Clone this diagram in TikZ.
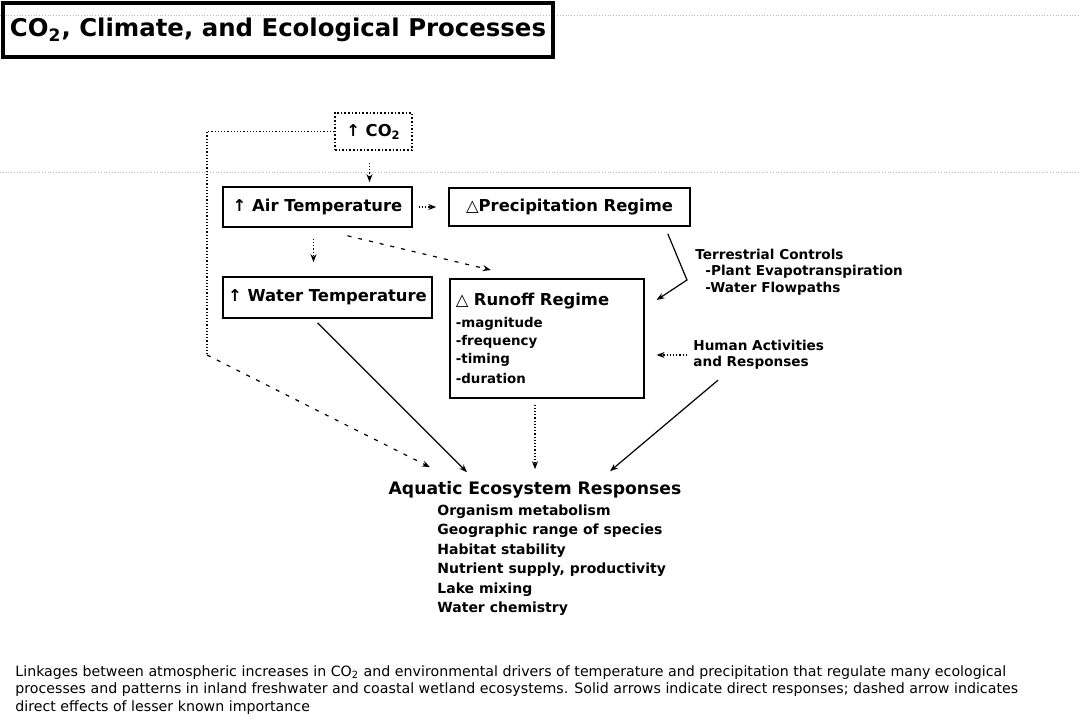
\documentclass[tikz,border=0pt]{standalone}
\usepackage{fontspec}
\setmainfont{DejaVu Sans}
\usetikzlibrary{arrows.meta}

\tikzset{
  box/.style={draw, line width=0.8pt, inner sep=0pt, font=\fontsize{8.2}{10}\selectfont\bfseries},
  note/.style={inner sep=0pt, align=left, font=\fontsize{6.8}{8.2}\selectfont\bfseries},
  solidarrow/.style={-{Stealth[length=4pt,width=3pt]}, line width=0.6pt},
  dasharrow/.style={solidarrow, dash pattern=on 2pt off 3.5pt},
  dotarrow/.style={solidarrow, densely dotted},
  scanline/.style={gray!55, densely dotted, line width=0.4pt}
}

\begin{document}
\begin{tikzpicture}[x=0.5pt,y=-0.5pt]
\useasboundingbox (0,0) rectangle (1080,727);
\draw[scanline] (0,15) -- (1080,15);
\draw[scanline] (0,172) -- (1080,172);
\node[box, line width=2pt, minimum width=275pt, minimum height=27pt,
      font=\fontsize{12.2}{14}\selectfont\bfseries] (title) at (278,30)
      {CO\textsubscript{2}, Climate, and Ecological Processes};
% drivers
\node[box, densely dotted, minimum width=38.5pt, minimum height=18.5pt] (co2) at (373.5,131.5) {↑ CO\textsubscript{2}};
\node[box, minimum width=94.5pt, minimum height=20pt] (air) at (317.5,207) {↑ Air Temperature};
\node[box, minimum width=120.5pt, minimum height=19pt] (precip) at (569.5,207) {△Precipitation Regime};
\node[box, minimum width=104.5pt, minimum height=20.5pt] (water) at (327.5,297.5) {↑ Water Temperature};
\node[box, anchor=north west, text width=91pt, inner xsep=3pt, minimum height=59.5pt, align=left] (runoff) at (449,278)
      {△ Runoff Regime\\[2pt]
       \fontsize{6.7}{9}\selectfont -magnitude\\ -frequency\\ -timing\\ -duration};
\node[note, anchor=west] (terr) at (695,272)
      {Terrestrial Controls\\ \hspace*{5pt}-Plant Evapotranspiration\\ \hspace*{5pt}-Water Flowpaths};
\node[note, anchor=west] (human) at (693,355) {Human Activities\\and Responses};
% responses
\node[inner sep=0pt, font=\fontsize{8.6}{10}\selectfont\bfseries] (aqua) at (535,490) {Aquatic Ecosystem Responses};
\node[note, anchor=north west, font=\fontsize{7}{9.75}\selectfont\bfseries] (resp) at (437,504)
      {Organism metabolism\\ Geographic range of species\\ Habitat stability\\
       Nutrient supply, productivity\\ Lake mixing\\ Water chemistry};
\node[anchor=north west, align=left, inner sep=0pt, font=\fontsize{7.1}{8.75}\selectfont] (caption) at (15,665)
      {Linkages between atmospheric increases in CO\textsubscript{2} and environmental drivers of temperature and precipitation that regulate many ecological\\
       processes and patterns in inland freshwater and coastal wetland ecosystems. Solid arrows indicate direct responses; dashed arrow indicates\\
       direct effects of lesser known importance};
% links
\coordinate (bend) at (687,280);
\coordinate (corner) at (207,355);
\coordinate (cA) at ([shift={(-2pt,-6pt)}]co2.south);
\coordinate (rA) at (runoff.south -| aqua.north);
\draw[dotarrow, shorten >=2pt] (cA) -- (cA |- air.north);
\draw[dotarrow, shorten <=3pt, shorten >=6pt] (air.east) -- (precip.west);
\draw[dotarrow] ([shift={(-2pt,-5.5pt)}]air.south) -- ([shift={(-7pt,7pt)}]water.north);
\draw[dasharrow] ([shift={(15pt,-4pt)}]air.south) -- ([shift={(-28pt,4pt)}]runoff.north);
\draw[solidarrow] ([shift={(-11.5pt,-3.5pt)}]precip.south east) -- (bend) -- ([shift={(6pt,-11pt)}]runoff.north east);
\draw[dotarrow, shorten <=3pt, shorten >=6pt] (human.west) -- (runoff.east |- human.west);
\draw[densely dotted, line width=0.6pt] (co2.west) -| (corner);
\draw[dasharrow] (corner) -- ([shift={(-52.5pt,7pt)}]aqua.north);
\draw[solidarrow] ([shift={(-5pt,-2pt)}]water.south) -- ([shift={(-34pt,4.5pt)}]aqua.north);
\draw[dotarrow] ([yshift=-3pt]rA) -- ([yshift=6pt]aqua.north);
\draw[solidarrow] ([shift={(12.5pt,-5pt)}]human.south west) -- ([shift={(37.5pt,5pt)}]aqua.north);
\end{tikzpicture}
\end{document}
